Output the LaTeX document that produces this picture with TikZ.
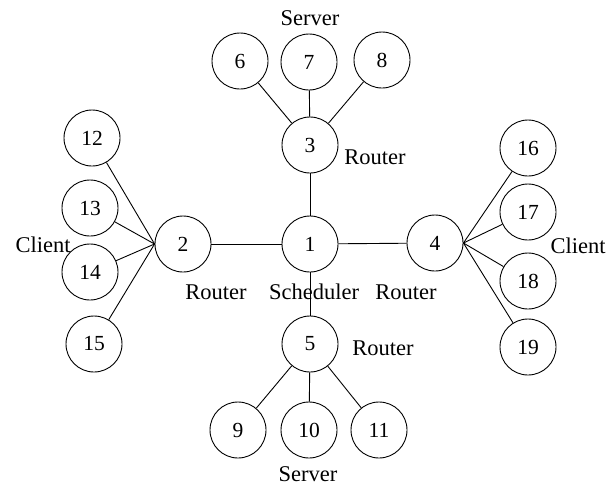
\documentclass[tikz,border=0pt]{standalone}
\usepackage{fontspec}
\setmainfont{Liberation Serif}
\usepackage{tikz}

\begin{document}
\begin{tikzpicture}[x=1pt,y=-1pt,
    host/.style={draw, circle, minimum size=56pt, inner sep=0pt, line width=0.9pt, font=\fontsize{21.5}{24}\selectfont},
    role/.style={font=\fontsize{22.5}{26}\selectfont, inner sep=0pt},
    link/.style={line width=0.9pt}]
            \useasboundingbox (0,0) rectangle (608,485);
            % core
            \node [host] (n1) at (310,244) {1};
            \node [host] (n2) at (183,244) {2};
            \node [host] (n3) at (310,145) {3};
            \node [host] (n4) at (435,243) {4};
            \node [host] (n5) at (310,344) {5};
            % servers
            \node [host] (n6) at (240,61) {6};
            \node [host] (n7) at (309,62) {7};
            \node [host] (n8) at (382,60) {8};
            \node [host] (n9) at (238,430) {9};
            \node [host] (n10) at (309,430) {10};
            \node [host] (n11) at (379,430) {11};
            % clients
            \node [host] (n12) at (92,138) {12};
            \node [host] (n13) at (90,208) {13};
            \node [host] (n14) at (90,272) {14};
            \node [host] (n15) at (94,344) {15};
            \node [host] (n16) at (528,148) {16};
            \node [host] (n17) at (528,212) {17};
            \node [host] (n18) at (528,281) {18};
            \node [host] (n19) at (528,347) {19};
            % labels
            \node [role] (srvtop) at (310,18) {Server};
            \node [role] (srvbot) at (308,474) {Server};
            \node [role] (cltl) at (43,245) {Client};
            \node [role] (cltr) at (578,246) {Client};
            \node [role] (rt3) at (375,157) {Router};
            \node [role] (rt2) at (216,292) {Router};
            \node [role] (sched) at (314,292) {Scheduler};
            \node [role] (rt4) at (406,292) {Router};
            \node [role] (rt5) at (383,348) {Router};
            % links
            \draw [link] (n1) -- (n2);
            \draw [link] (n1) -- (n3);
            \draw [link] (n1) -- (n4);
            \draw [link] (n1) -- (n5);
            \foreach \s in {6,7,8}
                \draw [link] (n\s) -- (n3);
            \foreach \s in {9,10,11}
                \draw [link] (n\s) -- (n5);
            \foreach \c in {12,13,14,15}
                \draw [link] (n\c) -- (n2.west);
            \foreach \c in {16,17,18,19}
                \draw [link] (n\c) -- (n4.east);
        \end{tikzpicture}
\end{document}
